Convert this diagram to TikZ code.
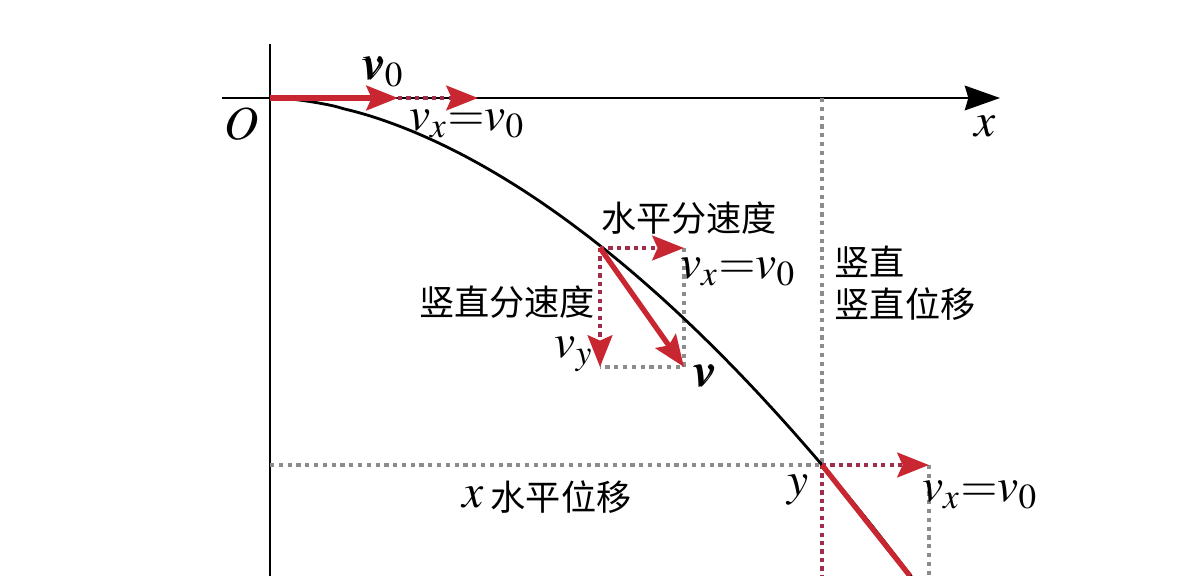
\documentclass[tikz,border=0pt]{standalone}
\usepackage{mathptmx}
\usepackage{fontspec}
\newfontfamily\cjk{Noto Sans CJK SC}
\usepackage{bm}
\usetikzlibrary{arrows.meta, positioning}
\definecolor{vred}{RGB}{200,38,48}
\definecolor{dred}{RGB}{160,45,75}
\definecolor{dgray}{RGB}{140,140,140}
\tikzset{
  axis/.style = {line width=0.75pt, black},
  vecarrow/.style = {line width=1.5pt, vred,
    -{Stealth[length=9pt, width=7pt, inset=1.5pt]}},
  reddots/.style = {line width=1.3pt, dred, dash pattern=on 1.2pt off 1.2pt},
  redhead/.style = {reddots,
    -{Stealth[length=9pt, width=7pt, inset=1.5pt, vred]}},
  graydots/.style = {line width=1.2pt, dgray, dash pattern=on 1.2pt off 1.3pt},
  cn/.style = {font=\cjk\fontsize{10}{12}\selectfont, inner sep=0pt, align=left},
  mlab/.style = {font=\fontsize{13.5}{15}\selectfont, inner sep=0pt}
}

\begin{document}
\begin{tikzpicture}[x=0.01cm, y=-0.01cm]
\useasboundingbox (0,0) rectangle (1200,576);
% key points
\coordinate (O) at (270,98);
\coordinate (P) at (600,248);
\coordinate (Q) at (822,465);
\coordinate (yTop) at (270,44);
\coordinate (yBot) at (270,576);
\coordinate (xL) at (222,98);
\coordinate (xR) at (1000,98);
\coordinate (v0end) at (398,98);
\coordinate (vxend) at (478,98);
\coordinate (Ph) at (684,248);
\coordinate (Pv) at (600,367);
\coordinate (Pc) at (684,367);
\coordinate (Qtop) at (822,98);
\coordinate (Qbot) at (822,576);
\coordinate (Qleft) at (270,465);
\coordinate (Qh) at (929,465);
\coordinate (Qhbot) at (929,576);
\coordinate (Qv) at (910,576);

% axes
\draw[axis] (yTop) -- (yBot);
\draw[axis, -{Stealth[length=10pt, width=7pt, inset=1pt]}] (xL) -- (xR);

% guide lines
\draw[graydots] (Qtop) -- (Q);
\draw[graydots] (Qleft) -- (Q);
\draw[graydots] (Qh) -- (Qhbot);
\draw[graydots] (Ph) -- (Pc) -- (Pv);
\draw[reddots] (Q) -- (Qbot);

% trajectory
\draw[line width=0.8pt, black, domain=0.0005:1.17, samples=80, smooth]
  plot ({270+552*\x}, {98+367*pow(\x,1.77)});

% velocities
\draw[redhead] (v0end) -- (vxend);
\draw[vecarrow] (O) -- (v0end);
\draw[redhead] (P) -- (Ph);
\draw[redhead] (P) -- (Pv);
\draw[vecarrow] (P) -- (Pc);
\draw[redhead] (Q) -- (Qh);
\draw[line width=1.5pt, vred] (Q) -- (Qv);

% labels
\node[mlab] (lO) at (242,124) {$O$};
\node[mlab] (lx) at (985,126) {$x$};
\node[mlab] (lv0) at (383,72) {$\bm{v}_0$};
\node[mlab] (lvx1) at (467,124) {$v_x{=}v_0$};
\node[cn] (lhs) at (689,218) {水平分速度};
\node[mlab] (lvx2) at (738,272) {$v_x{=}v_0$};
\node[cn] (lvs) at (507,302) {竖直分速度};
\node[mlab] (lvy) at (574,354) {$v_y$};
\node[mlab] (lv) at (704,376) {$\bm{v}$};
\node[cn, anchor=west] (lsz) at (834,262) {竖直};
\node[cn, anchor=west] (lszw) at (834,304) {竖直位移};
\node[mlab] (ly) at (798,490) {$y$};
\node[mlab] (lvx3) at (980,495) {$v_x{=}v_0$};
\node[mlab, anchor=west] (lxm) at (462,497) {$x$};
\node[cn, anchor=west] (lspw) at (490,497) {水平位移};
\end{tikzpicture}
\end{document}
